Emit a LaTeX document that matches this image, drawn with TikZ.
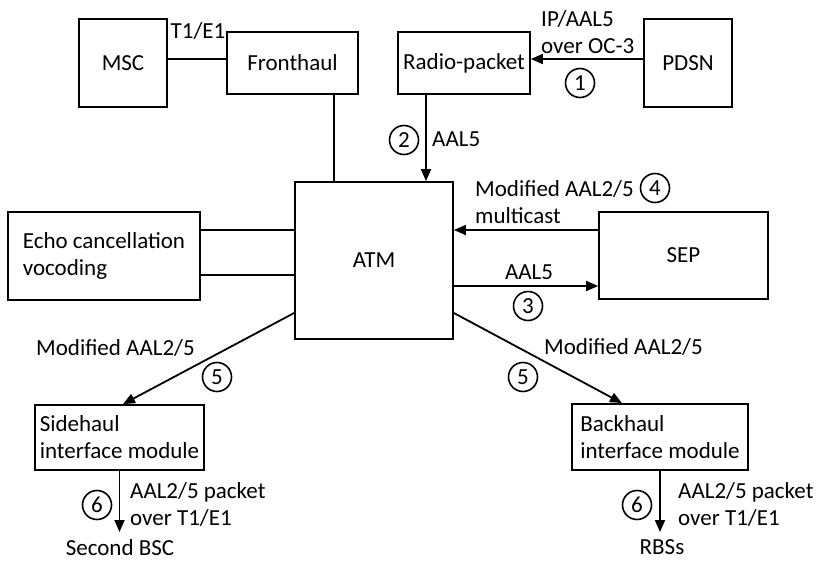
\documentclass[tikz,border=0pt]{standalone}
\usepackage{fontspec}
\setmainfont{Carlito}
\usetikzlibrary{arrows.meta}

\begin{document}
\begin{tikzpicture}[x=1pt,y=-1pt,
  every node/.style={font=\fontsize{23}{27}\selectfont},
  box/.style 2 args={draw,line width=1.8pt,rectangle,inner sep=0pt,align=left,minimum width=#1pt,minimum height=#2pt},
  lbl/.style={inner sep=0pt,align=left},
  num/.style={draw,circle,line width=1.6pt,inner sep=0pt,minimum size=29pt},
  link/.style={line width=1.8pt},
  arr/.style={link,-{Triangle[length=12pt,width=10pt]}}]
\useasboundingbox (0,0) rectangle (818,563);
% boxes
\node[box={88}{88}] (msc) at (123,63) {MSC};
\node[box={131}{62}] (fronthaul) at (292.5,63) {Fronthaul};
\node[box={132}{62}] (radio) at (464,63) {Radio-packet};
\node[box={88}{88}] (pdsn) at (688,63) {PDSN};
\node[box={158}{157}] (atm) at (374,260.5) {ATM};
\node[box={192}{88}] (echo) at (104,256) {Echo cancellation\\vocoding};
\node[box={169}{87}] (sep) at (683.5,255.5) {SEP};
\node[box={169}{65}] (side) at (119.5,437.5) {Sidehaul\\interface module};
\node[box={176}{66}] (back) at (660,437) {Backhaul\\interface module};
\node[anchor=north,inner sep=7pt] (bsc) at (120,532) {Second BSC};
\node[anchor=north,inner sep=7pt] (rbs) at (662,532) {RBSs};
% labels
\node[lbl] (t1e1) at (198,31) {T1/E1};
\node[lbl,anchor=west] (ipaal) at (541,32) {IP/AAL5\\over OC-3};
\node[lbl,anchor=west] (aala) at (432,139) {AAL5};
\node[lbl,anchor=west] (multi) at (475,202) {Modified AAL2/5\\multicast};
\node[lbl] (aalb) at (529,272) {AAL5};
\node[lbl,anchor=west] (modl) at (36,348) {Modified AAL2/5};
\node[lbl,anchor=west] (modr) at (544,347) {Modified AAL2/5};
\node[lbl,anchor=west] (pktl) at (130,504) {AAL2/5 packet\\over T1/E1};
\node[lbl,anchor=west] (pktr) at (678,504) {AAL2/5 packet\\over T1/E1};
% step numbers
\foreach \i/\t/\x/\y in {a/1/580/83,b/2/404/140,c/3/528/306,d/4/655/188,%
  e/5/217/377,f/5/523/377,g/6/97/505,h/6/637/505} {
  \node[num] (n\i) at (\x,\y) {\t};
}
% connectors
\draw[link] ([yshift=4pt]msc.east) -- ([yshift=4pt]fronthaul.west);
\draw[arr] ([yshift=4pt]pdsn.west) -- ([yshift=4pt]radio.east);
\draw[link] ([xshift=41.5pt]fronthaul.south) -- ([xshift=41.5pt]fronthaul.south |- atm.north);
\draw[arr] ([xshift=-38pt]radio.south) -- ([xshift=-38pt]radio.south |- atm.north);
\draw[link] ([yshift=26pt]echo.east) -- ([yshift=26pt]echo.east -| atm.west);
\draw[link] ([yshift=-19pt]echo.east) -- ([yshift=-19pt]echo.east -| atm.west);
\draw[arr] ([yshift=25.5pt]sep.west) -- ([yshift=25.5pt]sep.west -| atm.east);
\draw[arr] ([yshift=-25.5pt]atm.east) -- ([yshift=-25.5pt]atm.east -| sep.west);
\draw[arr] ([yshift=-52.5pt]atm.west) -- ([xshift=3.5pt]side.north);
\draw[arr] ([yshift=-52.5pt]atm.east) -- ([xshift=-38pt]back.north);
\draw[arr] (side.south) -- (side.south |- bsc.north);
\draw[arr] (back.south) -- (back.south |- rbs.north);
\end{tikzpicture}
\end{document}
